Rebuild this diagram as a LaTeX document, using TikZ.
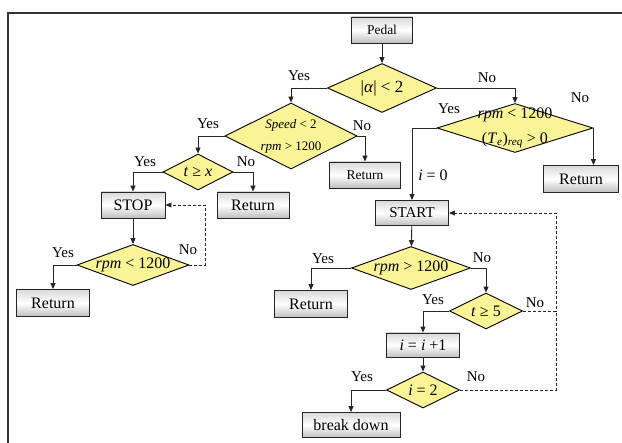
\documentclass[tikz,border=0pt]{standalone}
\usepackage{fontspec}
\setmainfont{Liberation Serif}
\usetikzlibrary{shapes.geometric,arrows.meta}
\definecolor{dfill}{RGB}{250,244,150}
\tikzset{
  box/.style={rectangle,draw=black!85,line width=0.9pt,inner sep=0pt,
    top color=gray!30,bottom color=gray!50,middle color=white,
    font=\fontsize{16}{18}\selectfont},
  dia/.style={diamond,draw=black,line width=0.9pt,fill=dfill,inner sep=0pt},
  dtext/.style={inner sep=0pt,font=\fontsize{16}{18}\selectfont,align=center},
  lab/.style={inner sep=0pt,font=\fontsize{15}{17}\selectfont},
  arr/.style={draw=black!85,line width=0.9pt,-{Triangle[length=6pt,width=5pt]}},
  ln/.style={draw=black!85,line width=0.9pt},
  dsh/.style={draw=black!85,line width=0.9pt,dash pattern=on 3pt off 2pt},
  dsharr/.style={dsh,-{Triangle[length=6pt,width=5pt]}}
}
\begin{document}
\begin{tikzpicture}[x=1pt,y=-1pt]
\useasboundingbox (0,0) rectangle (622,443);
% frame
\coordinate (fbl) at (8,443);
\coordinate (ftl) at (8,13);
\coordinate (ftr) at (622,13);
\draw[line width=1.3pt,black!80] (fbl) -- (ftl) -- (ftr);

% boxes
\node[box,minimum width=61pt,minimum height=26pt,font=\fontsize{13.5}{15}\selectfont] (pedal) at (382,30) {Pedal};
\node[box,minimum width=71pt,minimum height=26pt,font=\fontsize{13.5}{15}\selectfont] (r1) at (365,175) {Return};
\node[box,minimum width=75pt,minimum height=27pt] (r2) at (581,179) {Return};
\node[box,minimum width=64pt,minimum height=26pt] (stop) at (133,205) {STOP};
\node[box,minimum width=72pt,minimum height=26pt] (r3) at (253,205) {Return};
\node[box,minimum width=73pt,minimum height=27pt] (r4) at (53,303) {Return};
\node[box,minimum width=73pt,minimum height=25pt,font=\fontsize{15}{17}\selectfont] (start) at (412,213) {START};
\node[box,minimum width=73pt,minimum height=27pt] (r5) at (311,304) {Return};
\node[box,minimum width=73pt,minimum height=24pt] (inc) at (423,345) {\textit{i} = \textit{i} +1};
\node[box,minimum width=98pt,minimum height=25pt] (brk) at (351,425) {break down};

% diamonds
\node[dia,minimum width=109pt,minimum height=49pt] (A) at (382,88) {};
\node[dtext,font=\fontsize{17}{19}\selectfont] (At) at (A.center) {|\textit{α}| < 2};
\node[dia,minimum width=132pt,minimum height=66pt] (B) at (291,136) {};
\node[dtext,font=\fontsize{13}{22}\selectfont] (Bt) at (B.center) {\textit{Speed} < 2\\ \textit{rpm} > 1200};
\node[dia,minimum width=70pt,minimum height=36pt] (C) at (198,172) {};
\node[dtext] (Ct) at (C.center) {\textit{t} ≥ \textit{x}};
\node[dia,minimum width=112pt,minimum height=41pt] (D) at (133,265) {};
\node[dtext] (Dt) at (D.center) {\textit{rpm} < 1200};
\node[dia,minimum width=156pt,minimum height=49pt] (E) at (515,128) {};
\node[dtext,font=\fontsize{16}{25}\selectfont] (Et) at (E.center) {\textit{rpm} < 1200\\ (\textit{T}\textsubscript{\textit{e}})\textsubscript{\textit{req}} > 0};
\node[dia,minimum width=119pt,minimum height=43pt] (F) at (411,268) {};
\node[dtext] (Ft) at (F.center) {\textit{rpm} > 1200};
\node[dia,minimum width=73pt,minimum height=36pt] (G) at (486,311) {};
\node[dtext] (Gt) at (G.center) {\textit{t} ≥ 5};
\node[dia,minimum width=73pt,minimum height=36pt] (H) at (423,390) {};
\node[dtext] (Ht) at (H.center) {\textit{i} = 2};

% connectors
\draw[arr] (pedal) -- (A);
\draw[arr] (A.west) -| (B.north);
\draw[arr] (A.east) -| (E.north);
\draw[arr] (B.west) -| (C.north);
\draw[arr] (B.east) -| (r1.north);
\draw[arr] (C.west) -| (stop.north);
\draw[arr] (C.east) -| (r3.north);
\draw[arr] (stop) -- (D);
\draw[arr] (D.west) -| (r4.north);
\coordinate (dcorner) at (205,265);
\draw[dsharr] (D.east) -- (dcorner) |- (stop.east);
\draw[arr] (E.west) -| (start.north);
\draw[arr] (E.east) -- (E.east |- r2.north);
\draw[arr] (start) -- (F);
\draw[arr] (F.west) -| (r5.north);
\draw[arr] (F.east) -| (G.north);
\draw[arr] (G.west) -| (inc.north);
\coordinate (c1) at (556,311);
\coordinate (c2) at (556,390);
\draw[dsharr] (G.east) -- (c1) |- (start.east);
\draw[arr] (inc) -- (H);
\draw[arr] (H.west) -| (brk.north);
\draw[dsh] (H.east) -- (c2) -- (c1);

% labels
\node[lab] (lAy) at (299,76) {Yes};
\node[lab] (lAn) at (487,78) {No};
\node[lab] (lBy) at (208,124) {Yes};
\node[lab] (lBn) at (362,126) {No};
\node[lab] (lCy) at (145,162) {Yes};
\node[lab] (lCn) at (246,162) {No};
\node[lab] (lDy) at (63,253) {Yes};
\node[lab] (lDn) at (188,250) {No};
\node[lab] (lEy) at (449,109) {Yes};
\node[lab] (lEn) at (580,98) {No};
\node[lab,font=\fontsize{16}{18}\selectfont] (li0) at (433,175) {\textit{i} = 0};
\node[lab] (lFy) at (323,259) {Yes};
\node[lab] (lFn) at (482,258) {No};
\node[lab] (lGy) at (433,300) {Yes};
\node[lab] (lGn) at (535,303) {No};
\node[lab] (lHy) at (362,377) {Yes};
\node[lab] (lHn) at (476,377) {No};
\end{tikzpicture}
\end{document}
